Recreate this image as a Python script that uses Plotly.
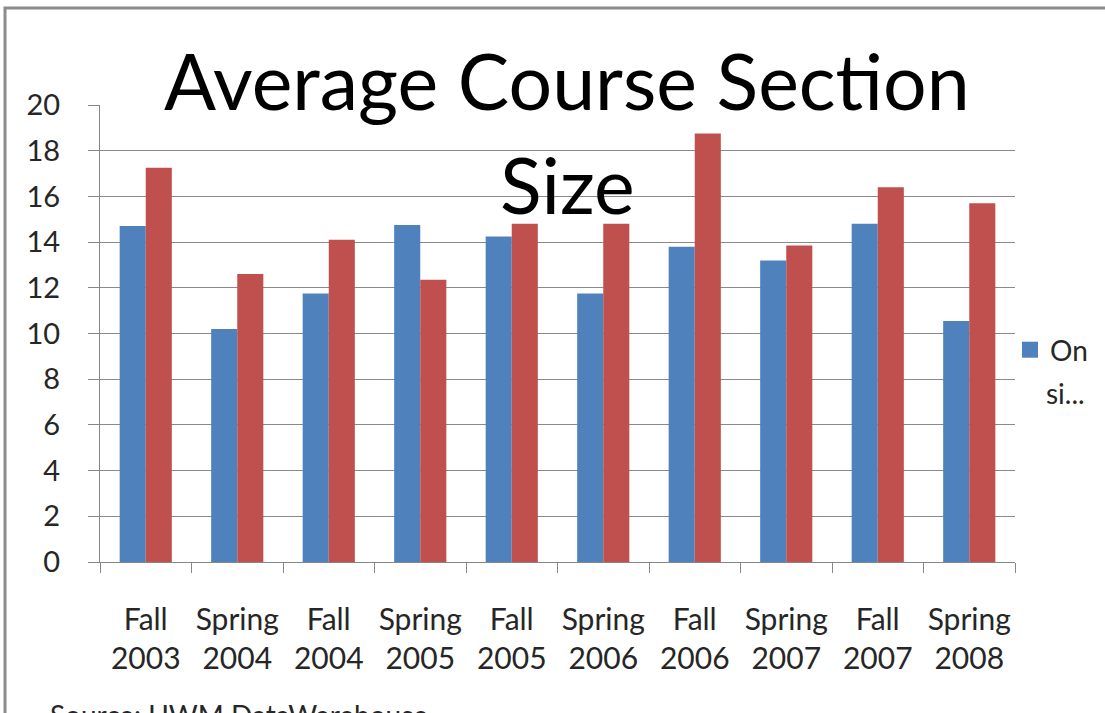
import plotly.graph_objects as go

categories = ["Fall<br>2003", "Spring<br>2004", "Fall<br>2004", "Spring<br>2005", "Fall<br>2005",
              "Spring<br>2006", "Fall<br>2006", "Spring<br>2007", "Fall<br>2007", "Spring<br>2008"]
online_values = [14.7, 10.2, 11.75, 14.75, 14.25, 11.75, 13.8, 13.2, 14.8, 10.55]
onsite_values = [17.25, 12.6, 14.1, 12.35, 14.8, 14.8, 18.75, 13.85, 16.4, 15.7]
y_ticks = [0, 2, 4, 6, 8, 10, 12, 14, 16, 18, 20]

BLUE = "#4F81BD"
RED = "#C0504D"
FONT = "Lato"
W, H = 1105, 713
L, R, T, B = 100, 90, 105, 151
pw, ph = W - L - R, H - T - B

def px_x(p):
    return (p - L) / pw

def px_y(p):
    return (H - B - p) / ph

fig = go.Figure()
fig.add_trace(go.Bar(x=categories, y=online_values, marker=dict(color=BLUE, line=dict(width=0)),
                     name="On", showlegend=False))
fig.add_trace(go.Bar(x=categories, y=onsite_values, marker=dict(color=RED, line=dict(width=0)),
                     name="si...", showlegend=False))
fig.add_trace(go.Scatter(x=[None], y=[None], mode="markers", name="On",
                         marker=dict(symbol="square", size=18, color=BLUE)))

fig.update_layout(
    width=W, height=H,
    margin=dict(l=L, r=R, t=T, b=B),
    paper_bgcolor="white", plot_bgcolor="white",
    barmode="group", bargap=0.43, bargroupgap=0,
    font=dict(family=FONT, color="#262626"),
    showlegend=True,
    legend=dict(x=px_x(1010), y=px_y(350), xanchor="left", yanchor="middle",
                font=dict(size=28, family=FONT, color="#262626"), bgcolor="rgba(0,0,0,0)"),
    xaxis=dict(showline=True, linecolor="#868686", linewidth=1, ticks="outside", tickson="boundaries",
               ticklen=10, tickcolor="#868686", tickfont=dict(size=30, family=FONT, color="#262626"),
               tickangle=0, ticklabelstandoff=31, showgrid=False),
    yaxis=dict(range=[0, 20], tickvals=y_ticks, showline=True, linecolor="#868686", linewidth=1,
               ticks="outside", ticklen=11, tickcolor="#868686", showgrid=True, gridcolor="#8a8a8a",
               gridwidth=1, tickfont=dict(size=29, family=FONT, color="#262626"),
               ticklabelstandoff=22, zeroline=False),
    annotations=[
        dict(text="Average Course Section", x=px_x(567), y=px_y(80), xref="paper", yref="paper",
             showarrow=False, xanchor="center", yanchor="middle", font=dict(size=77, family=FONT, color="black")),
        dict(text="Size", x=px_x(567), y=px_y(184), xref="paper", yref="paper",
             showarrow=False, xanchor="center", yanchor="middle", font=dict(size=77, family=FONT, color="black")),
        dict(text="si...", x=px_x(1044), y=px_y(393), xref="paper", yref="paper",
             showarrow=False, xanchor="left", yanchor="middle", font=dict(size=28, family=FONT, color="#262626")),
        dict(text="Source: UWM DataWarehouse", x=px_x(48), y=px_y(696), xref="paper", yref="paper",
             showarrow=False, xanchor="left", yanchor="top", font=dict(size=28, family=FONT, color="#262626")),
    ],
    shapes=[
        dict(type="rect", xref="paper", yref="paper", x0=px_x(5), x1=px_x(1120), y0=px_y(740), y1=px_y(8),
             line=dict(color="#8c8c8c", width=3), fillcolor="rgba(0,0,0,0)", layer="above"),
    ],
)

fig.write_html("out.html", config={"displayModeBar": False},
               post_script="document.body.style.margin='0px';")
